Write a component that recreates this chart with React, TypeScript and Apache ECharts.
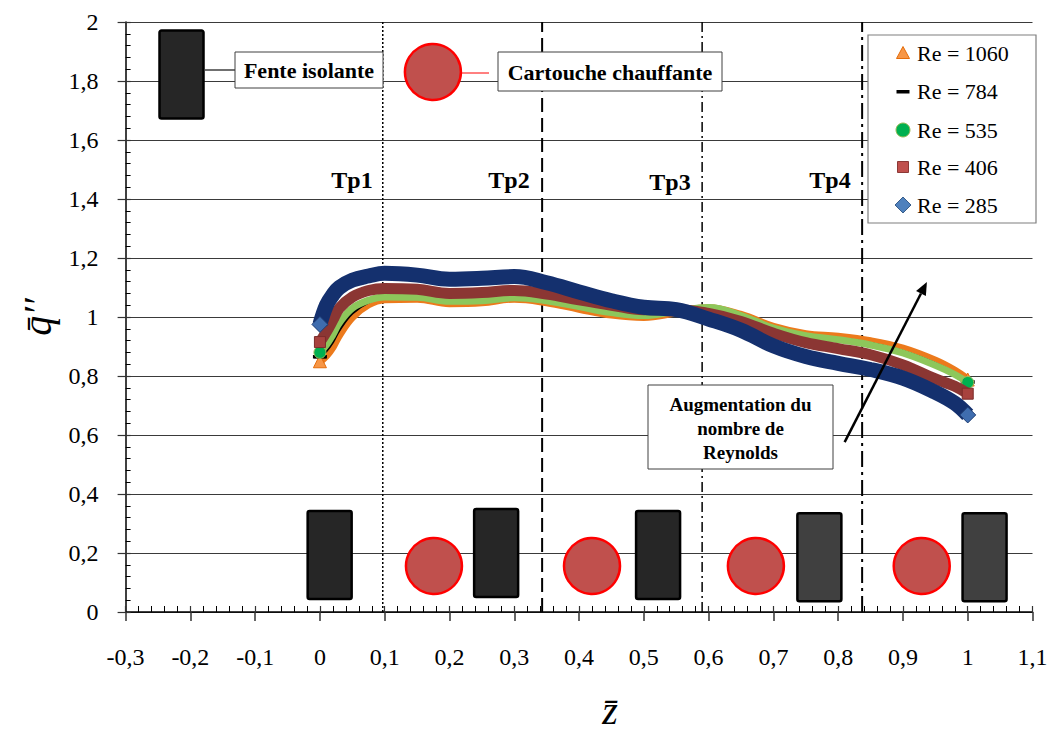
import { useEffect, useRef } from "react";
import * as echarts from "echarts";

const FONT = '"Liberation Serif", "DejaVu Serif", serif';

// ---- data ----
const zPoints = [0, 0.01, 0.02, 0.03, 0.05, 0.075, 0.1, 0.15, 0.2, 0.25, 0.3, 0.35, 0.4, 0.45, 0.5, 0.55, 0.6, 0.65, 0.7, 0.75, 0.8, 0.85, 0.9, 0.95, 0.98, 1.0];
const qRe1060 = [0.85, 0.87, 0.9, 0.94, 1.0, 1.043, 1.06, 1.062, 1.047, 1.05, 1.062, 1.05, 1.028, 1.008, 1.0, 1.015, 1.03, 1.007, 0.967, 0.942, 0.933, 0.918, 0.893, 0.852, 0.818, 0.788];
const qRe784 = [0.865, 0.885, 0.915, 0.955, 1.012, 1.05, 1.064, 1.064, 1.05, 1.052, 1.063, 1.052, 1.031, 1.011, 1.002, 1.017, 1.031, 1.006, 0.964, 0.939, 0.928, 0.911, 0.884, 0.843, 0.81, 0.78];
const qRe535 = [0.88, 0.905, 0.94, 0.98, 1.03, 1.057, 1.068, 1.067, 1.053, 1.055, 1.065, 1.055, 1.035, 1.015, 1.005, 1.02, 1.032, 1.005, 0.962, 0.937, 0.923, 0.905, 0.878, 0.836, 0.805, 0.778];
const qRe406 = [0.915, 0.95, 0.99, 1.03, 1.068, 1.09, 1.097, 1.094, 1.08, 1.083, 1.09, 1.078, 1.058, 1.04, 1.025, 1.025, 1.012, 0.985, 0.945, 0.913, 0.893, 0.872, 0.838, 0.79, 0.765, 0.74];
const qRe285 = [0.975, 1.04, 1.075, 1.1, 1.125, 1.139, 1.148, 1.142, 1.128, 1.131, 1.137, 1.116, 1.085, 1.055, 1.033, 1.025, 0.993, 0.955, 0.902, 0.866, 0.843, 0.822, 0.793, 0.745, 0.708, 0.668];

const seriesLabels = ["Re = 1060", "Re = 784", "Re = 535", "Re = 406", "Re = 285"];
const seriesValues = [qRe1060, qRe784, qRe535, qRe406, qRe285];

const xMin = -0.3;
const xMax = 1.1;
const xStep = 0.1;
const yMin = 0;
const yMax = 2;
const yStep = 0.2;

const tpNames = ["Tp1", "Tp2", "Tp3", "Tp4"];
const tpZ = [0.097, 0.343, 0.59, 0.837];

// schematic: insulating slots (rectangles) and heating cartridges (circles)
const slotZ = [0.015, 0.272, 0.522, 0.771, 1.026, -0.2137];
const slotQ = [0.193, 0.2, 0.193, 0.186, 0.186, 1.822];
const slotShade = [0, 0, 0, 1, 1, 0];
const heaterZ = [0.176, 0.42, 0.673, 0.929, 0.1744];
const heaterQ = [0.156, 0.156, 0.156, 0.156, 1.8305];
const arrowFrom = [0.81, 0.576];
const arrowTo = [0.937, 1.119];

// ---- styles ----
const curveStyles = [
  { color: "#EC7A1C", width: 8, symbol: "triangle", size: 13, fill: "#F79646", border: "#E46C0A" },
  { color: "#000000", width: 2.5, symbol: "rect", size: [12, 3], fill: "#000000", border: "#000000" },
  { color: "#8DC75B", width: 7, symbol: "circle", size: 12, fill: "#00B050", border: "#9BBB59" },
  { color: "#8B3633", width: 11, symbol: "rect", size: 11, fill: "#A8423E", border: "#7B2C2A" },
  { color: "#14306E", width: 15, symbol: "diamond", size: 16, fill: "#3F6DAF", border: "#1E3D73" },
];
const tpDash = [
  { type: [2, 2], width: 1.5 },
  { type: [14, 6], width: 2 },
  { type: [10, 4, 2, 4], width: 1.5 },
  { type: [16, 5, 3, 5], width: 2 },
];

const fmt = (v: number) => String(Math.round(v * 10) / 10).replace(".", ",");

export default function App() {
  const ref = useRef<HTMLDivElement | null>(null);

  useEffect(() => {
    if (!ref.current) return;
    const chart = echarts.init(ref.current, undefined, { renderer: "svg" });

    const curveSeries = seriesValues.map((vals, si) => {
      const st = curveStyles[si];
      const last = vals.length - 1;
      return {
        name: seriesLabels[si],
        type: "line",
        smooth: 0.4,
        z: 3 + si,
        showSymbol: true,
        symbol: "none",
        lineStyle: { color: st.color, width: st.width },
        itemStyle: { color: st.fill, borderColor: st.border, borderWidth: 1 },
        emphasis: { disabled: true },
        data: zPoints.map((z, i) =>
          i === 0 || i === last
            ? { value: [z, vals[i]], symbol: st.symbol, symbolSize: st.size }
            : { value: [z, vals[i]], symbol: "none" }
        ),
      };
    });

    const tpSeries = tpZ.map((z, i) => ({
      type: "line",
      z: 1,
      symbol: "none",
      silent: true,
      lineStyle: { color: "#000", width: tpDash[i].width, type: tpDash[i].type },
      data: [
        [z, yMin],
        [z, yMax],
      ],
    }));

    const option: any = {
      animation: false,
      grid: { left: 125.6, right: 17.5, top: 22, bottom: 119, containLabel: false, outerBoundsMode: "none" },
      xAxis: [
        {
          type: "value",
          min: xMin,
          max: xMax,
          interval: xStep,
          position: "bottom",
          axisLine: { onZero: false, lineStyle: { color: "#000", width: 1.5 } },
          axisTick: { show: true, inside: false, length: 9, lineStyle: { color: "#333", width: 1.5 } },
          minorTick: { show: false },
          axisLabel: { formatter: fmt, margin: 33, fontFamily: FONT, fontSize: 24, color: "#000" },
          splitLine: { show: false },
        },
        {
          type: "value",
          min: xMin,
          max: xMax,
          interval: xStep,
          position: "bottom",
          axisLine: { show: false, onZero: false },
          axisTick: { show: true, inside: true, length: 6, lineStyle: { color: "#333", width: 1.2 } },
          minorTick: { show: true, splitNumber: 5, length: 6, lineStyle: { color: "#000", width: 1 } },
          axisLabel: { show: false },
          splitLine: { show: false },
        },
      ],
      yAxis: [
        {
          type: "value",
          min: yMin,
          max: yMax,
          interval: yStep,
          position: "left",
          name: "q\u0304\u2032\u2032",
          nameLocation: "middle",
          nameRotate: 90,
          nameGap: 68,
          nameTextStyle: { fontFamily: FONT, fontStyle: "italic", fontSize: 40, color: "#000" },
          axisLine: { onZero: false, lineStyle: { color: "#000", width: 1.5 } },
          axisTick: { show: true, inside: false, length: 8, lineStyle: { color: "#333", width: 1.2 } },
          minorTick: { show: false },
          axisLabel: { formatter: fmt, margin: 27, fontFamily: FONT, fontSize: 24, color: "#000" },
          splitLine: { show: true, lineStyle: { color: "#3a3a3a", width: 1 } },
        },
        {
          type: "value",
          min: yMin,
          max: yMax,
          interval: yStep,
          position: "left",
          axisLine: { show: false, onZero: false },
          axisTick: { show: true, inside: true, length: 5, lineStyle: { color: "#333", width: 1.2 } },
          minorTick: { show: true, splitNumber: 5, length: 5, lineStyle: { color: "#000", width: 1 } },
          axisLabel: { show: false },
          splitLine: { show: false },
        },
      ],
      series: [
        ...tpSeries,
        {
          type: "custom",
          z: 2,
          silent: true,
          data: slotZ.map((z, i) => [z, slotQ[i], slotShade[i]]),
          renderItem: (_p: any, api: any) => {
            const c = api.coord([api.value(0), api.value(1)]);
            return {
              type: "rect",
              shape: { x: c[0] - 22, y: c[1] - 44, width: 44, height: 88, r: 2 },
              style: { fill: api.value(2) ? "#404040" : "#262626", stroke: "#000", lineWidth: 2.5 },
            };
          },
        },
        {
          type: "custom",
          z: 2,
          silent: true,
          data: heaterZ.map((z, i) => [z, heaterQ[i]]),
          renderItem: (_p: any, api: any) => {
            const c = api.coord([api.value(0), api.value(1)]);
            return {
              type: "circle",
              shape: { cx: c[0], cy: c[1], r: 28 },
              style: { fill: "#C0504D", stroke: "#FF0000", lineWidth: 2.5 },
            };
          },
        },
        ...curveSeries,
        {
          type: "custom",
          z: 20,
          silent: true,
          data: [[arrowFrom[0], arrowFrom[1], arrowTo[0], arrowTo[1]]],
          encode: { x: [0, 2], y: [1, 3] },
          renderItem: (_p: any, api: any) => {
            const p1 = api.coord([api.value(0), api.value(1)]);
            const p2 = api.coord([api.value(2), api.value(3)]);
            const a = Math.atan2(p2[1] - p1[1], p2[0] - p1[0]);
            const L = 13;
            const W = 5.5;
            const bx = p2[0] - L * Math.cos(a);
            const by = p2[1] - L * Math.sin(a);
            const nx = -Math.sin(a) * W;
            const ny = Math.cos(a) * W;
            return {
              type: "group",
              children: [
                { type: "line", shape: { x1: p1[0], y1: p1[1], x2: bx, y2: by }, style: { stroke: "#000", lineWidth: 2.5 } },
                { type: "polygon", shape: { points: [[p2[0], p2[1]], [bx + nx, by + ny], [bx - nx, by - ny]] }, style: { fill: "#000" } },
              ],
            };
          },
        },
      ],
      graphic: [
        // key connectors and boxes
        { type: "line", z: 50, shape: { x1: 204, y1: 70, x2: 235, y2: 70 }, style: { stroke: "#404040", lineWidth: 1.5 } },
        { type: "rect", z: 50, shape: { x: 235, y: 52, width: 148, height: 36 }, style: { fill: "#fff", stroke: "#404040", lineWidth: 1 } },
        { type: "text", z: 51, x: 309, y: 70, style: { text: "Fente isolante", font: `bold 22px ${FONT}`, fill: "#000", textAlign: "center", textVerticalAlign: "middle" } },
        { type: "line", z: 50, shape: { x1: 461, y1: 73, x2: 489, y2: 73 }, style: { stroke: "#FF0000", lineWidth: 1 } },
        { type: "rect", z: 50, shape: { x: 498, y: 52, width: 224, height: 39 }, style: { fill: "#fff", stroke: "#404040", lineWidth: 1 } },
        { type: "text", z: 51, x: 610, y: 72, style: { text: "Cartouche chauffante", font: `bold 22px ${FONT}`, fill: "#000", textAlign: "center", textVerticalAlign: "middle" } },
        { type: "rect", z: 50, shape: { x: 648, y: 385, width: 185, height: 84 }, style: { fill: "#fff", stroke: "#404040", lineWidth: 1 } },
        { type: "text", z: 51, x: 740.5, y: 428, style: { text: "Augmentation du\nnombre de\nReynolds", font: `bold 19px ${FONT}`, lineHeight: 24, fill: "#000", textAlign: "center", textVerticalAlign: "middle" } },
        // Tp labels
        ...tpNames.map((t, i) => ({
          type: "text",
          z: 51,
          x: [352, 509, 670, 830][i],
          y: [180, 180, 182, 180][i],
          style: { text: t, font: `bold 24px ${FONT}`, fill: "#000", textAlign: "center", textVerticalAlign: "middle" },
        })),
        // legend
        { type: "rect", z: 50, shape: { x: 868, y: 35, width: 168, height: 188 }, style: { fill: "#fff", stroke: "#7f7f7f", lineWidth: 1.2 } },
        { type: "polygon", z: 51, shape: { points: [[903, 46.5], [909.5, 58.5], [896.5, 58.5]] }, style: { fill: "#F79646", stroke: "#E46C0A", lineWidth: 1 } },
        { type: "rect", z: 51, shape: { x: 896.5, y: 90, width: 13, height: 3.5 }, style: { fill: "#000" } },
        { type: "circle", z: 51, shape: { cx: 903, cy: 130, r: 7 }, style: { fill: "#00B050", stroke: "#9BBB59", lineWidth: 1 } },
        { type: "rect", z: 51, shape: { x: 897.5, y: 161.5, width: 11, height: 11 }, style: { fill: "#C0504D", stroke: "#8C3836", lineWidth: 1 } },
        { type: "polygon", z: 51, shape: { points: [[903, 197], [911, 205], [903, 213], [895, 205]] }, style: { fill: "#4F81BD", stroke: "#385D8A", lineWidth: 1 } },
        ...seriesLabels.map((s, i) => ({
          type: "text",
          z: 51,
          x: 917,
          y: [53, 91.5, 130, 167, 205][i],
          style: { text: s, font: `22px ${FONT}`, fill: "#000", textAlign: "left", textVerticalAlign: "middle" },
        })),
        // x axis name
        { type: "text", z: 51, x: 610, y: 710, style: { text: "z\u0304", font: `italic 40px ${FONT}`, fill: "#000", textAlign: "center", textVerticalAlign: "middle" } },
      ],
    };

    chart.setOption(option);
    return () => chart.dispose();
  }, []);

  return <div ref={ref} style={{ position: "fixed", left: 0, top: 0, width: 1050, height: 731, background: "#fff" }} />;
}
